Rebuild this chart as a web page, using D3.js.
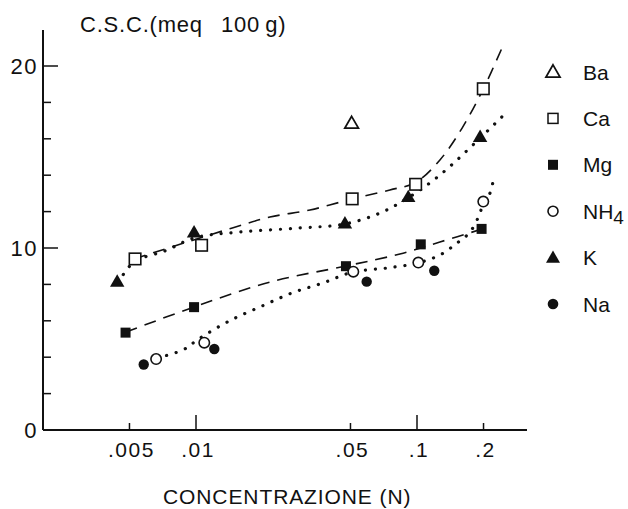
<!DOCTYPE html>
<html>
<head>
<meta charset="utf-8">
<script src="https://cdn.jsdelivr.net/npm/d3@7"></script>
<style>
  html, body { margin: 0; padding: 0; background: #fff; }
  svg { display: block; }
  text { font-family: "Liberation Sans", Arial, Helvetica, sans-serif; fill: #111; }
</style>
</head>
<body>
<svg id="chart" width="628" height="509"></svg>
<script>
// ---------- DATA ----------
const xTickValues = [0.005, 0.01, 0.05, 0.1, 0.2];
const xTickLabels = [".005", ".01", ".05", ".1", ".2"];
const xMajorTicks = [0.01, 0.1];
const yTickValues = [2, 4, 6, 8, 10, 12, 14, 16, 18, 20];
const yTickLabels = ["0", "10", "20"];
const yLabelValues = [0, 10, 20];

const legendNames = ["Ba", "Ca", "Mg", "NH4", "K", "Na"];

const baX = [0.0506];
const baY = [16.8];
const caX = [0.0053, 0.0106, 0.0509, 0.0986, 0.1995];
const caY = [9.4, 10.15, 12.7, 13.5, 18.75];
const mgX = [0.0048, 0.0098, 0.0477, 0.104, 0.196];
const mgY = [5.35, 6.75, 9.0, 10.2, 11.05];
const nhX = [0.0066, 0.0109, 0.0515, 0.1014, 0.1995];
const nhY = [3.9, 4.8, 8.7, 9.2, 12.55];
const kX = [0.0044, 0.0098, 0.0472, 0.0913, 0.193];
const kY = [8.1, 10.8, 11.3, 12.75, 16.05];
const naX = [0.0058, 0.0121, 0.0592, 0.1197];
const naY = [3.6, 4.45, 8.15, 8.75];

// hand-drawn fitted curves [concentration, value]
const caCurve = [[0.00525, 9.40], [0.00939, 10.38], [0.0146, 11.10], [0.0216, 11.70], [0.0328, 12.09],
  [0.0507, 12.69], [0.0754, 13.19], [0.0986, 13.6], [0.127, 14.84], [0.160, 16.59], [0.1995, 18.74], [0.2424, 20.99]];
const kCurve = [[0.00444, 8.08], [0.00524, 9.23], [0.00724, 9.84], [0.0098, 10.55], [0.0158, 10.88],
  [0.0295, 11.10], [0.0472, 11.32], [0.068, 11.92], [0.091, 12.75], [0.127, 14.01], [0.193, 16.04], [0.247, 17.31]];
const mgCurve = [[0.00482, 5.38], [0.0098, 6.76], [0.0216, 8.13], [0.0477, 9.01], [0.0837, 9.67],
  [0.127, 10.33], [0.197, 11.04]];
const nhCurve = [[0.00666, 3.96], [0.00873, 4.40], [0.01042, 5.05], [0.0144, 6.04], [0.01989, 6.81],
  [0.02719, 7.53], [0.03756, 8.08], [0.05134, 8.68], [0.07316, 8.90], [0.101, 9.18], [0.1271, 9.62],
  [0.1517, 10.27], [0.1738, 10.88], [0.1928, 11.92], [0.1995, 12.53], [0.214, 13.02], [0.223, 13.96]];

// ---------- DRAW ----------
const svg = d3.select("#chart");
const ink = "#111";

const x = d3.scaleLog().domain([0.01, 0.1]).range([196, 417]);
const y = d3.scaleLinear().domain([0, 20]).range([430, 66]);
const axisX0 = 43, axisY0 = 430;

// axes lines
svg.append("line").attr("x1", axisX0).attr("x2", axisX0).attr("y1", 30).attr("y2", axisY0)
  .attr("stroke", ink).attr("stroke-width", 2);
svg.append("line").attr("x1", axisX0).attr("x2", 527).attr("y1", axisY0).attr("y2", axisY0)
  .attr("stroke", ink).attr("stroke-width", 1.8);

// y ticks (inward, to the right)
svg.selectAll(".ytick").data(yTickValues).enter().append("line")
  .attr("x1", axisX0).attr("x2", d => axisX0 + (d % 10 === 0 ? 15 : 8))
  .attr("y1", d => y(d)).attr("y2", d => y(d))
  .attr("stroke", ink).attr("stroke-width", 1.5);
svg.selectAll(".ylab").data(yLabelValues).enter().append("text")
  .attr("x", 38).attr("y", d => y(d)).attr("dy", "0.36em")
  .attr("text-anchor", "end").attr("font-size", 22).attr("letter-spacing", 1.5)
  .text((d, i) => yTickLabels[i]);

// x ticks (inward, upward)
svg.selectAll(".xtick").data(xTickValues).enter().append("line")
  .attr("x1", d => x(d)).attr("x2", d => x(d))
  .attr("y1", axisY0).attr("y2", d => axisY0 - (xMajorTicks.includes(d) ? 15 : 7))
  .attr("stroke", ink).attr("stroke-width", 1.5);
svg.selectAll(".xlab").data(xTickValues).enter().append("text")
  .attr("x", d => x(d) + 2).attr("y", 457)
  .attr("text-anchor", "middle").attr("font-size", 21).attr("letter-spacing", 1.5)
  .text((d, i) => xTickLabels[i]);

// titles
const yt = svg.append("text").attr("x", 80).attr("y", 32).attr("font-size", 22).attr("letter-spacing", 0.8);
yt.append("tspan").text("C.S.C.(meq");
yt.append("tspan").attr("dx", 18).text("100\u2009g)");
svg.append("text").attr("x", 163).attr("y", 504).attr("font-size", 21).attr("letter-spacing", 0.9)
  .text("CONCENTRAZIONE (N)");

// curves
const lineGen = d3.line().x(d => x(d[0])).y(d => y(d[1])).curve(d3.curveCatmullRom.alpha(0.5));
function dashed(data) {
  svg.append("path").attr("d", lineGen(data)).attr("fill", "none")
    .attr("stroke", ink).attr("stroke-width", 1.6).attr("stroke-dasharray", "12 8");
}
function dotted(data) {
  svg.append("path").attr("d", lineGen(data)).attr("fill", "none")
    .attr("stroke", ink).attr("stroke-width", 3.2).attr("stroke-linecap", "round")
    .attr("stroke-dasharray", "0.1 9.8");
}
dashed(caCurve);
dashed(mgCurve);
dotted(kCurve);
dotted(nhCurve);

// markers
const tri = d3.symbol().type(d3.symbolTriangle);
function openSquares(xs, ys, s) {
  svg.selectAll(null).data(xs).enter().append("rect")
    .attr("x", d => x(d) - s / 2).attr("y", (d, i) => y(ys[i]) - s / 2)
    .attr("width", s).attr("height", s)
    .attr("fill", "#fff").attr("stroke", ink).attr("stroke-width", 1.6);
}
function filledSquares(xs, ys, s) {
  svg.selectAll(null).data(xs).enter().append("rect")
    .attr("x", d => x(d) - s / 2).attr("y", (d, i) => y(ys[i]) - s / 2)
    .attr("width", s).attr("height", s).attr("fill", ink);
}
function circles(xs, ys, r, filled) {
  svg.selectAll(null).data(xs).enter().append("circle")
    .attr("cx", d => x(d)).attr("cy", (d, i) => y(ys[i])).attr("r", r)
    .attr("fill", filled ? ink : "#fff").attr("stroke", ink).attr("stroke-width", filled ? 0 : 1.6);
}
function triangles(xs, ys, size, filled) {
  svg.selectAll(null).data(xs).enter().append("path")
    .attr("d", tri.size(size)())
    .attr("transform", (d, i) => `translate(${x(d)},${y(ys[i])})`)
    .attr("fill", filled ? ink : "#fff").attr("stroke", ink).attr("stroke-width", filled ? 0 : 1.8);
}
openSquares(caX, caY, 11.5);
filledSquares(mgX, mgY, 10);
circles(nhX, nhY, 5.2, false);
circles(naX, naY, 5.2, true);
triangles(kX, kY, 90, true);
triangles(baX, baY, 80, false);

// legend
const lg = d3.scalePoint().domain(legendNames).range([72, 304]);
const lx = 553;
legendNames.forEach(name => {
  const cy = lg(name);
  if (name === "Ba") {
    svg.append("path").attr("d", tri.size(85)()).attr("transform", `translate(${lx},${cy + 1})`)
      .attr("fill", "#fff").attr("stroke", ink).attr("stroke-width", 1.8);
  } else if (name === "Ca") {
    svg.append("rect").attr("x", lx - 5).attr("y", cy - 5).attr("width", 10).attr("height", 10)
      .attr("fill", "#fff").attr("stroke", ink).attr("stroke-width", 1.5);
  } else if (name === "Mg") {
    svg.append("rect").attr("x", lx - 5).attr("y", cy - 5).attr("width", 10).attr("height", 10).attr("fill", ink);
  } else if (name === "NH4") {
    svg.append("circle").attr("cx", lx).attr("cy", cy).attr("r", 5).attr("fill", "#fff")
      .attr("stroke", ink).attr("stroke-width", 1.6);
  } else if (name === "K") {
    svg.append("path").attr("d", tri.size(85)()).attr("transform", `translate(${lx},${cy + 1})`).attr("fill", ink);
  } else {
    svg.append("circle").attr("cx", lx).attr("cy", cy).attr("r", 5.3).attr("fill", ink);
  }
  const t = svg.append("text").attr("x", 583).attr("y", cy + 7.5).attr("font-size", 21);
  if (name === "NH4") {
    t.append("tspan").text("NH");
    t.append("tspan").attr("font-size", 19).attr("dy", 5).text("4");
  } else {
    t.text(name);
  }
});
</script>
</body>
</html>
